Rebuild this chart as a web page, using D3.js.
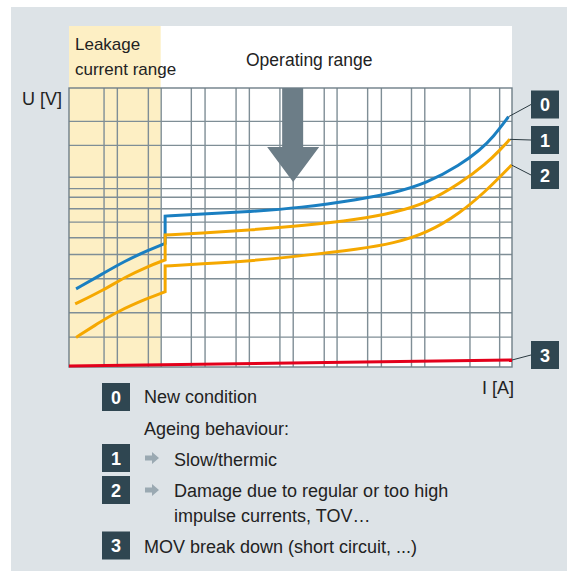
<!DOCTYPE html>
<html>
<head>
<meta charset="utf-8">
<script src="https://d3js.org/d3.v7.min.js"></script>
<style>
  body { margin: 0; background: #fff; }
  svg text { font-family: "Liberation Sans", Arial, sans-serif; fill: #222; }
</style>
</head>
<body>
<div id="chart"></div>
<script>
// grid lines, in chart units (I and U both 0..100, no real scale on the original)
var iGrid = [7.8, 10.8, 17.8, 20.7, 27.5, 30.6, 37.6, 40.6, 47.5, 50.5, 57.5, 60.4, 67.3, 70.4, 77.2, 80.2, 90.4, 97.1];
var uGrid = [10.9, 19.6, 31.8, 40.5, 46.5, 52.1, 56.9, 61.0, 64.1, 68.2, 79.6, 88.2];

var leakageEnd = 20.7;   // end of leakage current range
var arrowAt = 50.6;      // operating range arrow

// [I, U] points, the repeated I is the step
var newCondition = [[1.6, 28.0], [7.8, 33.6], [12.5, 37.9], [17.7, 41.7], [21.7, 44.3],
  [21.7, 54.1], [29.6, 54.8], [40.9, 55.7], [52.1, 57.0], [65.7, 60.1], [73.2, 62.3],
  [80.7, 65.8], [88.3, 72.4], [92.8, 77.8], [95.8, 82.5], [99.2, 89.7]];
var slowThermic = [[1.4, 22.6], [7.8, 27.6], [12.5, 32.1], [17.7, 36.0], [21.7, 38.4],
  [21.7, 47.3], [29.6, 48.0], [40.9, 49.1], [52.1, 50.5], [65.7, 53.0], [73.2, 55.3],
  [80.7, 58.7], [88.3, 65.8], [94.3, 73.0], [97.3, 77.8], [99.5, 81.6]];
var impulseDamage = [[1.6, 10.6], [6.5, 15.6], [10.8, 19.8], [17.7, 24.6], [21.7, 27.0],
  [21.7, 36.2], [29.6, 36.9], [40.9, 38.0], [52.1, 39.8], [65.7, 42.3], [73.2, 44.3],
  [80.7, 47.9], [88.3, 55.1], [94.3, 63.4], [97.3, 68.2], [99.9, 72.4]];
var breakdown = [[0, 0.4], [100, 2.5]];

var seriesNames = ["0", "1", "2", "3"];
var legendTexts = ["New condition", "Slow/thermic", "Damage due to regular or too high", "MOV break down (short circuit, ...)"];

var width = 567, height = 571;
var plotL = 69, plotR = 512, plotT = 88, plotB = 367;

var svg = d3.select("#chart").append("svg")
  .attr("width", width).attr("height", height);

var x = d3.scaleLinear().domain([0, 100]).range([plotL, plotR]);
var y = d3.scaleLinear().domain([0, 100]).range([plotB, plotT]);

// backgrounds
svg.append("rect").attr("x", 11).attr("y", 7).attr("width", width - 11).attr("height", height - 7).attr("fill", "#dde3e7");
svg.append("rect").attr("x", plotL).attr("y", 26).attr("width", plotR - plotL).attr("height", plotB - 26).attr("fill", "#fff");
svg.append("rect").attr("x", x(0)).attr("y", 26).attr("width", x(leakageEnd) - x(0)).attr("height", plotB - 26).attr("fill", "#fdefc4");

// grid through axes
var gridColor = "#7f8e96";
svg.append("g").attr("transform", "translate(0," + plotB + ")")
  .call(d3.axisBottom(x).tickValues(iGrid).tickSize(-(plotB - plotT)).tickFormat(""))
  .call(function(g) { g.select(".domain").remove(); })
  .selectAll("line").attr("stroke", gridColor).attr("stroke-width", 1.4);
svg.append("g").attr("transform", "translate(" + plotL + ",0)")
  .call(d3.axisLeft(y).tickValues(uGrid).tickSize(-(plotR - plotL)).tickFormat(""))
  .call(function(g) { g.select(".domain").remove(); })
  .selectAll("line").attr("stroke", gridColor).attr("stroke-width", 1.4);
svg.append("rect").attr("x", plotL).attr("y", plotT).attr("width", plotR - plotL).attr("height", plotB - plotT)
  .attr("fill", "none").attr("stroke", "#6f7f88").attr("stroke-width", 1.4);

// big arrow
var ax = x(arrowAt);
svg.append("path")
  .attr("d", "M" + (ax - 11) + "," + plotT + "L" + (ax + 10) + "," + plotT + "L" + (ax + 10) + "," + 147 +
    "L" + (ax + 26) + ",147L" + ax + ",182L" + (ax - 26) + ",147L" + (ax - 11) + ",147Z")
  .attr("fill", "#6c7d87");

// curves
var line = d3.line().x(function(d) { return x(d[0]); }).y(function(d) { return y(d[1]); })
  .curve(d3.curveBasis);
function stepPath(pts) {
  var segs = [[pts[0]]];
  for (var i = 1; i < pts.length; i++) {
    if (pts[i][0] === pts[i - 1][0]) segs.push([]);
    segs[segs.length - 1].push(pts[i]);
  }
  return segs.map(function(s, i) {
    var p = line(s);
    return i ? p.replace(/^M/, "L") : p;
  }).join("");
}
var curves = [
  {pts: newCondition, color: "#1a7fc1"},
  {pts: slowThermic, color: "#f5a800"},
  {pts: impulseDamage, color: "#f5a800"},
  {pts: breakdown, color: "#e3001b"}
];
svg.selectAll("path.curve").data(curves).enter().append("path")
  .attr("class", "curve")
  .attr("d", function(d) { return stepPath(d.pts); })
  .attr("fill", "none")
  .attr("stroke", function(d) { return d.color; })
  .attr("stroke-width", 3)
  .attr("stroke-linejoin", "miter");

// labels at curve ends
var boxColor = "#2f4651";
var labelY = [104.5, 140, 175, 355];
curves.forEach(function(c, i) {
  var end = c.pts[c.pts.length - 1];
  svg.append("line")
    .attr("x1", x(end[0])).attr("y1", y(end[1]))
    .attr("x2", 531).attr("y2", labelY[i])
    .attr("stroke", "#2b3a41").attr("stroke-width", 1);
  svg.append("rect").attr("x", 531).attr("y", labelY[i] - 14).attr("width", 28).attr("height", 28).attr("fill", boxColor);
  svg.append("text").attr("x", 545).attr("y", labelY[i] + 6.5).attr("text-anchor", "middle")
    .style("fill", "#fff").style("font-weight", "bold").style("font-size", "18px").text(seriesNames[i]);
});

// header texts
svg.append("text").attr("x", 75).attr("y", 50).style("font-size", "17px").text("Leakage");
svg.append("text").attr("x", 75).attr("y", 75).style("font-size", "17px").text("current range");
svg.append("text").attr("x", 246).attr("y", 66).style("font-size", "17.5px").text("Operating range");
svg.append("text").attr("x", 22).attr("y", 105).style("font-size", "18px").text("U [V]");
svg.append("text").attr("x", 514).attr("y", 394).attr("text-anchor", "end").style("font-size", "18px").text("I [A]");

// legend
var legendRows = [
  {box: 0, boxY: 397, text: legendTexts[0], tx: 144, ty: 403},
  {box: 1, boxY: 458, text: legendTexts[1], tx: 174, ty: 466, arrow: true},
  {box: 2, boxY: 490, text: legendTexts[2], tx: 174, ty: 497, arrow: true},
  {box: 3, boxY: 545.5, text: legendTexts[3], tx: 144, ty: 553}
];
svg.append("text").attr("x", 144).attr("y", 435).style("font-size", "18px").text("Ageing behaviour:");
svg.append("text").attr("x", 174).attr("y", 522).style("font-size", "18px").text("impulse currents, TOV\u2026");
legendRows.forEach(function(r) {
  svg.append("rect").attr("x", 102).attr("y", r.boxY - 14).attr("width", 28).attr("height", 28).attr("fill", boxColor);
  svg.append("text").attr("x", 116).attr("y", r.boxY + 6.5).attr("text-anchor", "middle")
    .style("fill", "#fff").style("font-weight", "bold").style("font-size", "18px").text(seriesNames[r.box]);
  svg.append("text").attr("x", r.tx).attr("y", r.ty).style("font-size", "18px").text(r.text);
  if (r.arrow) {
    var cy = r.boxY;
    svg.append("path")
      .attr("d", "M145," + (cy - 2.5) + "L152," + (cy - 2.5) + "L152," + (cy - 6) + "L159," + cy +
        "L152," + (cy + 6) + "L152," + (cy + 2.5) + "L145," + (cy + 2.5) + "Z")
      .attr("fill", "#9aa9b2");
  }
});
</script>
</body>
</html>
